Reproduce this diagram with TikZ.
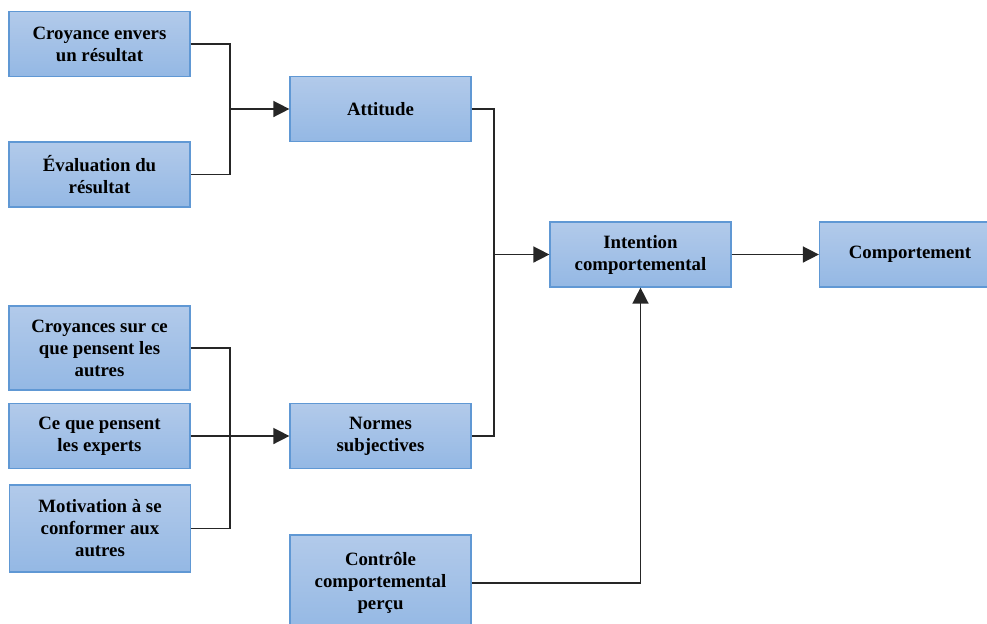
\documentclass[tikz,border=0pt]{standalone}
\usepackage{fontspec}
\setmainfont{Liberation Serif}
\usepackage{tikz}
\usetikzlibrary{arrows.meta}
\usepackage{xcolor}
\definecolor{boxtop}{RGB}{178, 202, 234}
\definecolor{boxbot}{RGB}{148, 184, 228}
\definecolor{boxline}{RGB}{96, 152, 212}

\begin{document}
\begin{tikzpicture}[x=0.5pt, y=-0.5pt,
    every node/.style={font=\fontsize{9.4}{11}\selectfont\bfseries, align=center},
    tpbbox/.style={draw=boxline, line width=0.6pt, top color=boxtop, bottom color=boxbot,
      minimum width=90.5pt, minimum height=32.5pt, inner sep=0pt},
    link/.style={line width=0.75pt, black!85},
    arr/.style={link, -{Triangle[length=8pt, width=8pt]}}]
      \useasboundingbox (0,0) rectangle (987,623);
      \clip (0,0) rectangle (987,623);
      \node[tpbbox] (cro) at (99.5, 44) {Croyance envers\\un résultat};
      \node[tpbbox] (eva) at (99.5, 174.5) {Évaluation du\\résultat};
      \node[tpbbox] (att) at (380.5, 109) {Attitude};
      \node[tpbbox] (int) at (640.5, 254.5) {Intention\\comportemental};
      \node[tpbbox] (com) at (910, 254.5) {Comportement};
      \node[tpbbox, minimum height=42pt] (cso) at (99.5, 348) {Croyances sur ce\\que pensent les\\autres};
      \node[tpbbox] (exp) at (99.5, 436) {Ce que pensent\\les experts};
      \node[tpbbox, minimum height=43.5pt] (mot) at (100, 528.5) {Motivation à se\\conformer aux\\autres};
      \node[tpbbox] (nor) at (380.5, 436) {Normes\\subjectives};
      \node[tpbbox, minimum height=48pt] (con) at (380.5, 583) {Contrôle\\comportemental\\perçu};
      \coordinate (j1) at (230, 109);
      \coordinate (j2) at (494, 254.5);
      \coordinate (j3) at (230, 436);
      \draw[link] (cro.east) -| (j1) |- (eva.east);
      \draw[arr] (j1) -- (att.west);
      \draw[link] (att.east) -| (j2) |- (nor.east);
      \draw[arr] (j2) -- (int.west);
      \draw[arr] (int.east) -- (com.west);
      \draw[arr] (con.east) -| (int.south);
      \draw[link] (cso.east) -| (j3) |- (mot.east);
      \draw[arr] (exp.east) -- (nor.west);
    \end{tikzpicture}
\end{document}
